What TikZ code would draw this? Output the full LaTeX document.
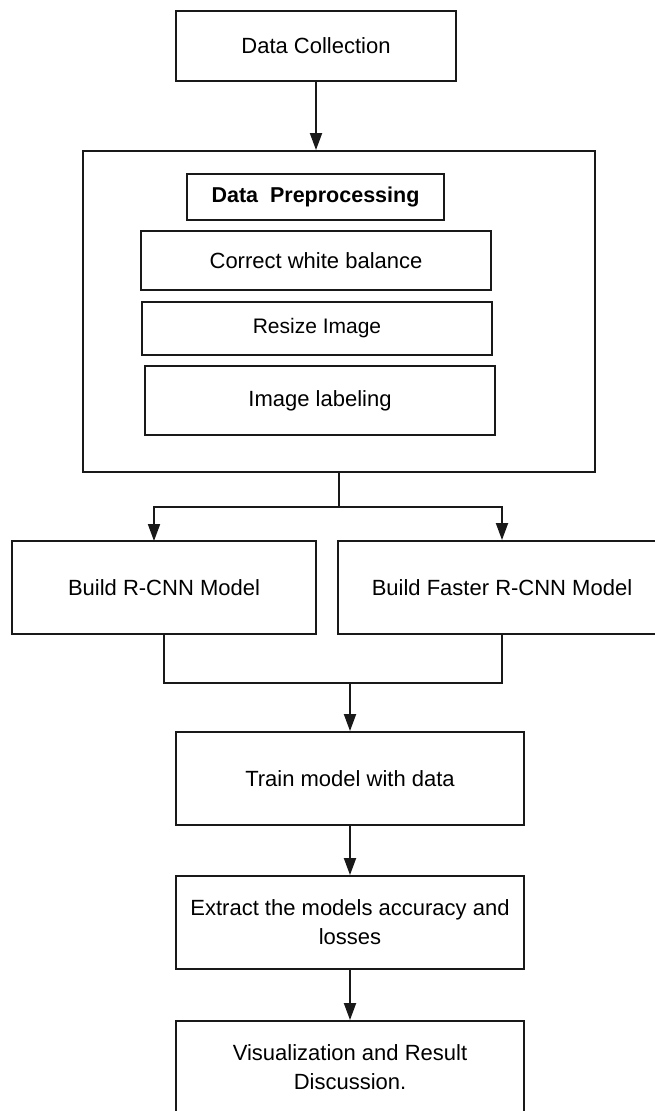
\documentclass[tikz,border=0pt]{standalone}
\usepackage{fontspec}
\setmainfont{Liberation Sans}
\usetikzlibrary{arrows.meta}

\begin{document}
\begin{tikzpicture}[x=1pt, y=-1pt,
  box/.style={draw=black!90, line width=1.9pt, inner sep=0pt, align=center,
    font=\fontsize{22}{29}\selectfont},
  link/.style={draw=black!90, line width=1.9pt},
  flow/.style={link, -{Triangle[length=17pt,width=12pt]}}]

% page frame, the last boxes run off its edges
\useasboundingbox (0,0) rectangle (655,1111);
\clip (0,0) rectangle (655,1111);

\node[box, minimum width=280pt, minimum height=70pt] (collect) at (316,46) {Data Collection};

% preprocessing block with its steps
\node[box, minimum width=512pt, minimum height=321pt] (prep) at (339,311.5) {};
\node[box, font=\bfseries\fontsize{21.5}{26}\selectfont,
  minimum width=257pt, minimum height=46pt] (title) at (315.5,197) {Data\ \ Preprocessing};
\node[box, minimum width=350pt, minimum height=59pt] (balance) at (316,260.5) {Correct white balance};
\node[box, font=\fontsize{21}{25}\selectfont,
  minimum width=350pt, minimum height=53pt] (resize) at (317,328.5) {Resize Image};
\node[box, minimum width=350pt, minimum height=69pt] (labeling) at (320,400.5) {Image labeling};

% the two models
\node[box, minimum width=304pt, minimum height=93pt] (rcnn) at (164,587.5) {Build R-CNN Model};
\node[box, minimum width=328pt, minimum height=93pt] (faster) at (502,587.5) {Build Faster R-CNN Model};

\node[box, minimum width=348pt, minimum height=93pt] (train) at (350,778.5) {Train model with data};
\node[box, minimum width=348pt, minimum height=93pt] (extract) at (350,922.5)
  {Extract the models accuracy and\\losses};
\node[box, minimum width=348pt, minimum height=93pt] (visual) at (350,1067.5)
  {Visualization and Result\\Discussion.};

\coordinate (split) at (339,507);
\coordinate (leftin) at (154,541);
\coordinate (merge) at (350,683);

\draw[flow] (collect.south) -- (collect.south |- prep.north);
\draw[link] (prep.south) -- (split);
\draw[flow] (split) -| (leftin);
\draw[flow] (split) -| (faster.north);
\draw[link] (rcnn.south) |- (merge) -| (faster.south);
\draw[flow] (merge) -- (merge |- train.north);
\draw[flow] (train.south) -- (extract.north);
\draw[flow] (extract.south) -- (visual.north);
\end{tikzpicture}
\end{document}
